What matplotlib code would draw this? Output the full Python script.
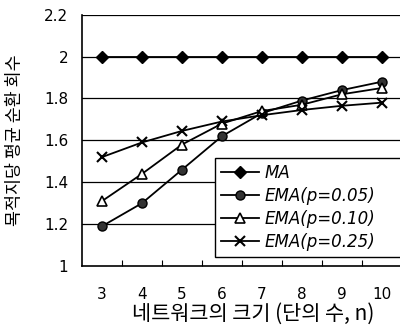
import matplotlib
matplotlib.use("Agg")
import matplotlib.pyplot as plt

plt.rcParams['font.family'] = ['Noto Sans CJK KR', 'DejaVu Sans']

# data
sizes = [3, 4, 5, 6, 7, 8, 9, 10]
ma = [2.0, 2.0, 2.0, 2.0, 2.0, 2.0, 2.0, 2.0]
ema_005 = [1.19, 1.30, 1.46, 1.62, 1.73, 1.79, 1.84, 1.88]
ema_010 = [1.31, 1.44, 1.58, 1.68, 1.74, 1.77, 1.82, 1.85]
ema_025 = [1.52, 1.59, 1.645, 1.69, 1.72, 1.745, 1.765, 1.78]
y_ticks = [1, 1.2, 1.4, 1.6, 1.8, 2, 2.2]
y_labels = ["1", "1.2", "1.4", "1.6", "1.8", "2", "2.2"]

fig = plt.figure(figsize=(4.0, 3.26), dpi=100)
ax = fig.add_axes([0.205, 0.184, 0.80, 0.771])

for y in y_ticks[1:]:
    ax.axhline(y, color="black", lw=0.9, zorder=1)

ax.plot(sizes, ma, color="black", lw=1.3, marker="D", ms=6, mfc="black", mec="black", label="MA", zorder=3)
ax.plot(sizes, ema_005, color="black", lw=1.3, marker="o", ms=6.5, mfc="#333333", mec="black", label="EMA(p=0.05)", zorder=3)
ax.plot(sizes, ema_010, color="black", lw=1.3, marker="^", ms=6.5, mfc="white", mec="black", mew=1.2, label="EMA(p=0.10)", zorder=3)
ax.plot(sizes, ema_025, color="black", lw=1.3, marker="x", ms=7, mew=1.5, label="EMA(p=0.25)", zorder=3)

ax.set_xlim(2.5, 10.5)
ax.set_ylim(1, 2.2)
ax.set_xticks(sizes)
ax.set_xticklabels([str(s) for s in sizes], fontsize=11, family="DejaVu Sans")
ax.set_xticks([s + 0.5 for s in sizes], minor=True)
ax.tick_params(axis="x", which="major", length=0, pad=15)
ax.tick_params(axis="x", which="minor", direction="in", length=4, width=0.8)
ax.set_yticks(y_ticks)
ax.set_yticklabels(y_labels, fontsize=11, family="DejaVu Sans")
ax.tick_params(axis="y", length=0, pad=10)

for side in ["top", "right"]:
    ax.spines[side].set_visible(False)
ax.spines["left"].set_linewidth(1.2)
ax.spines["bottom"].set_linewidth(1.2)

ax.set_xlabel("네트워크의 크기 (단의 수, n)", fontsize=15, labelpad=3)
ax.xaxis.set_label_coords(0.535, -0.145)
ax.set_ylabel("목적지당 평균 순환 회수", fontsize=12.5, labelpad=14)

leg = ax.legend(loc="upper left", bbox_to_anchor=(0.416, 0.048, 0.594, 0.382), mode="expand",
                frameon=True, fancybox=False, edgecolor="black", framealpha=1, fontsize=12,
                handlelength=2.3, borderpad=0.35, labelspacing=0.3, handletextpad=0.3,
                borderaxespad=0)
leg.get_frame().set_linewidth(1.0)
for t in leg.get_texts():
    t.set_fontstyle("italic")
    t.set_family("DejaVu Sans")

fig.savefig("out.png", dpi=100)
